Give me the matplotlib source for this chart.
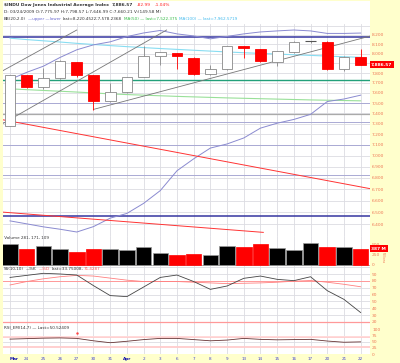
import numpy as np
import matplotlib
matplotlib.use("Agg")
import matplotlib.pyplot as plt
import matplotlib.transforms as mtrans

# ---------------- data ----------------
day_labels = ['Mar', '24', '25', '26', '27', '30', '31', 'Apr', '2', '3', '6', '7',
              '8', '9', '13', '14', '15', '16', '17', '20', '21', '22']
opens = [7278, 7776, 7660, 7750, 7912, 7776, 7522, 7609, 7762, 7978, 8010, 7960,
         7789, 7837, 8080, 8050, 7915, 8015, 8125, 8122, 7842, 7965]
highs = [7776, 7776, 7855, 7930, 7912, 7776, 7700, 7765, 8077, 8018, 8012, 7965,
         7882, 8083, 8083, 8050, 8030, 8130, 8133, 8131, 7972, 8050]
lows = [7278, 7650, 7640, 7740, 7760, 7434, 7515, 7600, 7760, 7887, 7842, 7780,
        7780, 7830, 7956, 7915, 7873, 8010, 8118, 7835, 7820, 7880]
closes = [7776, 7660, 7750, 7925, 7776, 7522, 7609, 7762, 7978, 8018, 7976, 7790,
          7837, 8083, 8058, 7920, 8030, 8125, 8131, 7842, 7970, 7887]
volumes = [500, 367, 442, 383, 308, 375, 383, 342, 425, 292, 233, 258,
           242, 450, 417, 500, 392, 342, 517, 433, 417, 387]
bb_upper = [7735, 7808, 7871, 7962, 8042, 8094, 8126, 8182, 8221, 8248, 8211, 8189,
            8158, 8184, 8211, 8232, 8243, 8253, 8243, 8216, 8216, 8220]
bb_lower = [6428, 6403, 6378, 6358, 6335, 6380, 6451, 6491, 6577, 6688, 6864, 6972,
            7071, 7109, 7165, 7258, 7305, 7341, 7390, 7515, 7540, 7578]
ma50 = [7641, 7633, 7625, 7617, 7609, 7600, 7591, 7584, 7578, 7572, 7566, 7561,
        7556, 7551, 7547, 7543, 7539, 7535, 7531, 7528, 7525, 7522]
ma100 = [8165, 8150, 8137, 8124, 8110, 8098, 8086, 8075, 8065, 8055, 8046, 8037,
         8028, 8019, 8011, 8004, 7997, 7990, 7983, 7976, 7969, 7963]
stoch_k = [85, 88, 91, 90, 88.5, 73, 58.5, 57, 71, 85, 88.5, 79,
           67.6, 72.5, 83.7, 87, 82.2, 80.3, 86, 65.7, 53, 33.75]
stoch_d = [74, 79, 83, 86, 88, 87, 84, 81, 79, 79, 79, 78,
           77, 76, 76.5, 77, 78, 79.5, 80.5, 78, 75, 71.4]
rsi = [62, 64, 66, 67, 65, 55, 47, 53, 60, 65, 65, 60,
       55, 58, 65, 61, 59, 60, 61, 54, 49, 50.5]

price_ticks = [8200, 8100, 8000, 7800, 7700, 7600, 7500, 7400, 7300, 7200, 7100,
               7000, 6900, 6800, 6700, 6600, 6500, 6400]
grid_prices = [8300, 8200, 8100, 8000, 7900, 7800, 7700, 7600, 7500, 7400, 7300, 7200,
               7100, 7000, 6900, 6800, 6700, 6600, 6500, 6400]
vol_ticks = [0, 250, 500]
stoch_ticks = [20, 30, 40, 50, 60, 70, 80, 90]
rsi_ticks = [0, 25, 50, 75, 100]

# drawn annotation lines: ((index, price), (index, price))
gray_trends = [((-0.5, 7818), (4.0, 8253)),
               ((-0.5, 7295), (9.38, 8253)),
               ((5.0, 7438), (21.6, 8189))]
red_trends = [((-0.6, 7343), (21.6, 6704)),
              ((-0.6, 6504), (15.17, 6332))]
blue_levels = [8175, 6471]
teal_level = 7727
gray_level = 7397
lavender_levels = [7500, 7320, 7100, 6824]

last_price = 7886.57
last_volume = 387

# ---------------- layout ----------------
W, H = 400, 363
fig = plt.figure(figsize=(W / 100, H / 100), dpi=100)
fig.patch.set_facecolor('#FFFFCC')
L_PX, R_PX = 3, 370

# white chart background
bg = plt.Rectangle((L_PX / W, 1 - 354 / H), (R_PX - L_PX) / W, 353 / H,
                   transform=fig.transFigure, facecolor='white',
                   edgecolor='none', zorder=-5)
fig.patches.append(bg)


def make_ax(top, bottom):
    ax = fig.add_axes([L_PX / W, 1 - bottom / H, (R_PX - L_PX) / W, (bottom - top) / H])
    ax.set_facecolor('none')
    ax.set_zorder(1)
    for s in ax.spines.values():
        s.set_visible(False)
    ax.set_xlim(-0.42, 21.56)
    ax.tick_params(axis='both', length=0, labelsize=3.2, colors='#EE7755', pad=1.5)
    ax.yaxis.tick_right()
    ax.set_xticks([])
    return ax


n = len(closes)
xs = np.arange(n)
grid_col = '#dcdce2'

# ---- main price panel ----
ax = make_ax(24, 236)
ax.set_yscale('log')
ax.set_ylim(6302, 8318)
ax.yaxis.set_minor_locator(matplotlib.ticker.NullLocator())
ax.yaxis.set_minor_formatter(matplotlib.ticker.NullFormatter())
ax.set_yticks(price_ticks)
ax.set_yticklabels([f'{p:,}' for p in price_ticks])
for p in grid_prices:
    ax.axhline(p, color=grid_col, lw=0.6, zorder=1)
for x in xs:
    ax.axvline(x, color=grid_col, lw=0.6, zorder=1)
for p in lavender_levels:
    ax.axhline(p, color='#aaaad4', lw=0.7, zorder=2)
ax.axhline(gray_level, color='#aaaaaa', lw=0.9, zorder=2)
ax.axhline(teal_level, color='#22a07a', lw=1.0, zorder=2)
for p in blue_levels:
    ax.axhline(p, color='#3535a0', lw=1.1, zorder=2)
ax.plot(xs, ma100, color='#88ddf2', lw=0.8, zorder=3)
ax.plot(xs, ma50, color='#99e099', lw=0.8, zorder=3)
ax.plot(xs, bb_upper, color='#8a8ad0', lw=0.7, zorder=3)
ax.plot(xs, bb_lower, color='#8a8ad0', lw=0.7, zorder=3)
for (x0, p0), (x1, p1) in gray_trends:
    ax.plot([x0, x1], [p0, p1], color='#777777', lw=0.6, zorder=3)
for (x0, p0), (x1, p1) in red_trends:
    ax.plot([x0, x1], [p0, p1], color='#ff3333', lw=0.7, zorder=3)

for i in range(n):
    prev = closes[i - 1] if i > 0 else opens[i]
    up = closes[i] >= prev
    col = '#888888' if up else '#ff0000'
    ax.vlines(i, lows[i], highs[i], color=col, lw=0.6, zorder=4)
    lo, hi = min(opens[i], closes[i]), max(opens[i], closes[i])
    hollow = closes[i] >= opens[i]
    if hi - lo < 8:
        ax.hlines(closes[i], i - 0.32, i + 0.32, color='#555555' if up else col, lw=0.8, zorder=5)
        continue
    ax.bar(i, hi - lo, bottom=lo, width=0.64,
           facecolor='white' if hollow else col, edgecolor=col,
           lw=0.6, zorder=5)

tr = mtrans.blended_transform_factory(ax.transAxes, ax.transData)
ax.text(1.003, last_price, '7,886.57', transform=tr, fontsize=3.2, color='white',
        fontweight='bold', va='center', ha='left',
        bbox=dict(boxstyle='square,pad=0.35', fc='#ff0000', ec='none'), zorder=10,
        clip_on=False)

# ---- volume panel ----
axv = make_ax(236, 265.5)
axv.set_ylim(-24, 695)
axv.set_yticks(vol_ticks)
axv.set_yticklabels([str(v) for v in vol_ticks])
for x in xs:
    axv.axvline(x, color=grid_col, lw=0.6, zorder=1)
for i in range(n):
    prev = closes[i - 1] if i > 0 else opens[i]
    up = closes[i] >= prev
    axv.bar(i, volumes[i], width=0.93, color='#000000' if up else '#ff0000',
            edgecolor='#999999' if up else '#ff0000', lw=0.5, zorder=3)
axv.axhline(0, color='#999999', lw=0.5, zorder=2)
axv.text(0.0, 0.93, ' Volume 281, 171, 109', transform=axv.transAxes, fontsize=3.0,
         color='#333333', va='center', ha='left')
trv = mtrans.blended_transform_factory(axv.transAxes, axv.transData)
axv.text(1.003, last_volume, '387 M', transform=trv, fontsize=3.2, color='white',
         fontweight='bold', va='center', ha='left',
         bbox=dict(boxstyle='square,pad=0.35', fc='#ff0000', ec='none'), zorder=10,
         clip_on=False)
axv.text(1.036, 160, 'Millions', transform=trv, fontsize=2.2, color='#EE7755',
         rotation=270, va='center', ha='center', clip_on=False)

# ---- stochastic panel ----
axs = make_ax(265.5, 325)
axs.set_ylim(15.6, 102.4)
axs.set_yticks(stoch_ticks)
axs.set_yticklabels([str(v) for v in stoch_ticks])
for v in stoch_ticks + [100]:
    axs.axhline(v, color=grid_col, lw=0.6, zorder=1)
for x in xs:
    axs.axvline(x, color=grid_col, lw=0.6, zorder=1)
axs.axhline(80, color='#ff9999', lw=0.7, zorder=2)
axs.axhline(20, color='#ff9999', lw=0.9, zorder=2)
axs.plot(xs, stoch_d, color='#ff8080', lw=0.6, zorder=3)
axs.plot(xs, stoch_k, color='#444444', lw=0.6, zorder=4)
axs.axhline(15.8, color='#cccccc', lw=0.6)

# ---- RSI panel ----
axr = make_ax(325, 354)
axr.set_ylim(0, 120.8)
axr.set_yticks(rsi_ticks)
axr.set_yticklabels([str(v) for v in rsi_ticks])
for x in xs:
    axr.axvline(x, color=grid_col, lw=0.6, zorder=1)
axr.axhline(50, color=grid_col, lw=0.6, zorder=1)
axr.axhline(70, color='#ffcccc', lw=1.3, zorder=2)
axr.axhline(30, color='#ffcccc', lw=1.3, zorder=2)
axr.axhline(75, color='#ffdddd', lw=0.6, zorder=2)
axr.plot(xs, rsi, color='#663333', lw=0.6, zorder=3)
axr.plot([4], [89], marker='.', ms=1.5, color='#ff4444', zorder=4)
axr.set_xticks(xs)
axr.set_xticklabels(day_labels)
axr.tick_params(axis='x', pad=2.0, labelsize=3.0, colors='#4444cc')
for lab in axr.get_xticklabels():
    if lab.get_text() in ('Mar', 'Apr'):
        lab.set_color('#1111aa')
        lab.set_fontweight('bold')
axr.get_xticklabels()[0].set_horizontalalignment('left')

# ---- header texts ----
renderer = fig.canvas.get_renderer()


def seg_text(x_px, y_px, parts, size):
    x = x_px
    for s, c, w, gap in parts:
        t = fig.text(x / W, 1 - y_px / H, s, color=c, fontsize=size, fontweight=w,
                     va='center', ha='left', zorder=5)
        bb = t.get_window_extent(renderer=renderer)
        x = bb.x1 + gap


seg_text(4, 4.8, [('$INDU Dow Jones Industrial Average Index', '#333333', 'bold', 3),
                  ('7,886.57', '#333333', 'bold', 4),
                  ('-82.99', '#ff2222', 'normal', 4),
                  ('-1.04%', '#ff2222', 'normal', 0)], 3.2)
seg_text(4, 12.2, [('D: 03/24/2009 O:7,775.97 H:7,798.57 L:7,646.99 C:7,660.21 V:(149.58 M)',
                    '#333333', 'normal', 0)], 3.1)
seg_text(4, 18.6, [('BB(20,2.0)', '#333333', 'normal', 2),
                   ('\u2014upper \u2014lower', '#6a6ad0', 'normal', 2),
                   ('last=8,220.4522;7,578.2368', '#333333', 'normal', 2),
                   ('MA(50) \u2014 last=7,522.375', '#33bb44', 'normal', 2),
                   ('MA(100) \u2014 last=7,962.5719', '#44bbee', 'normal', 0)], 3.0)

seg_text(4, 269.5, [('SS(10,10)', '#333333', 'normal', 2),
                    ('\u2014%K', '#333333', 'normal', 2),
                    ('\u2014%D', '#ff5555', 'normal', 2),
                    ('last=33.75008,', '#333333', 'normal', 0),
                    ('71.4287', '#ff5555', 'normal', 0)], 3.0)
seg_text(4, 327.8, [('RSI_EM(14,7) \u2014 Last=50.52409', '#333333', 'normal', 0)], 3.0)

fig.savefig('out.png', dpi=100, facecolor=fig.get_facecolor())
